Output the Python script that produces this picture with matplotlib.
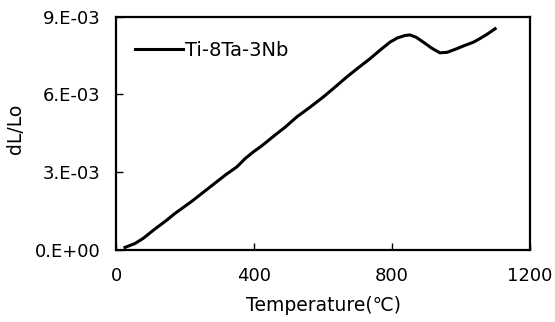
import matplotlib
matplotlib.use("Agg")
import matplotlib.pyplot as plt

plt.rcParams['font.family'] = ['DejaVu Sans', 'Noto Sans CJK KR']

# dilatometry curve
temp = [26, 55, 79, 110, 147, 170, 195, 220, 243, 268, 292, 320, 350, 374, 398, 420,
        437, 460, 490, 524, 560, 601, 635, 669, 700, 736, 765, 794, 815, 838, 852,
        870, 891, 915, 939, 960, 988, 1010, 1036, 1055, 1075, 1099]
dl = [0.10, 0.25, 0.45, 0.78, 1.15, 1.40, 1.64, 1.88, 2.12, 2.38, 2.63, 2.92, 3.20,
      3.52, 3.78, 3.99, 4.17, 4.42, 4.73, 5.13, 5.48, 5.90, 6.28, 6.67, 7.00, 7.37,
      7.70, 8.01, 8.17, 8.27, 8.29, 8.20, 8.01, 7.78, 7.60, 7.62, 7.76, 7.88, 8.01,
      8.15, 8.31, 8.53]
dl = [v * 1e-3 for v in dl]

xticks = [0, 400, 800, 1200]
yticks = [0, 3e-3, 6e-3, 9e-3]
ytick_labels = ['0.E+00', '3.E-03', '6.E-03', '9.E-03']

fig = plt.figure(figsize=(5.55, 3.22), dpi=100)
ax = fig.add_axes([116/555, 1 - 250/322, (530-116)/555, (250-16.5)/322])

ax.plot(temp, dl, color='black', lw=2.2, label='Ti-8Ta-3Nb')
ax.set_xlim(0, 1200)
ax.set_ylim(0, 9e-3)
ax.set_xticks(xticks)
ax.set_yticks(yticks)
ax.set_yticklabels(ytick_labels)
ax.tick_params(direction='in', length=5, width=1, labelsize=13)
ax.tick_params(axis='y', pad=11)
ax.tick_params(axis='x', pad=12)
for s in ax.spines.values():
    s.set_linewidth(1.6)

ax.set_xlabel('Temperature(\u2103)', fontsize=13.5)
ax.xaxis.set_label_coords(0.5, -0.195)
ax.set_ylabel('dL/Lo', fontsize=13.5)
ax.yaxis.set_label_coords(-0.22, 0.52)
ax.legend(loc='upper left', frameon=False, fontsize=14, handlelength=2.5,
          handletextpad=0.1, bbox_to_anchor=(0.003, 0.97))

fig.savefig('out.png', dpi=100)
